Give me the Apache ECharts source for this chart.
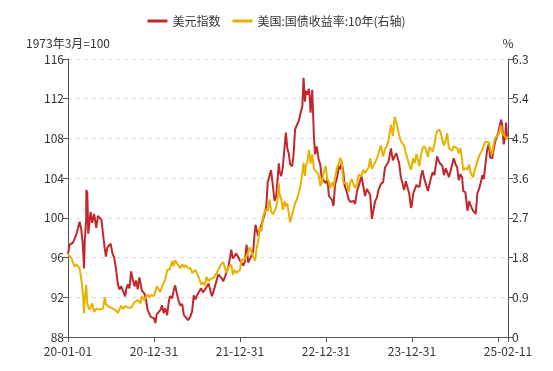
<!DOCTYPE html>
<html>
<head>
<meta charset="utf-8">
<script src="https://cdn.jsdelivr.net/npm/echarts@6/dist/echarts.min.js"></script>
<style>html,body{margin:0;padding:0;background:#fff}#c{width:553px;height:371px}</style>
</head>
<body>
<div id="c"></div>
<script>
var dates = [
"2020-01-01","2020-01-08","2020-01-15","2020-01-22","2020-01-29","2020-02-05","2020-02-12","2020-02-19","2020-02-26","2020-03-04","2020-03-09","2020-03-12","2020-03-18","2020-03-19","2020-03-23","2020-03-27","2020-04-01","2020-04-06","2020-04-13","2020-04-21","2020-04-30","2020-05-07","2020-05-14","2020-05-22","2020-05-29","2020-06-05","2020-06-10","2020-06-16","2020-06-24","2020-06-30","2020-07-08","2020-07-15","2020-07-22","2020-07-31","2020-08-06","2020-08-14","2020-08-21","2020-08-31","2020-09-04","2020-09-11","2020-09-18","2020-09-25","2020-10-02","2020-10-09","2020-10-16","2020-10-23","2020-10-30","2020-11-04","2020-11-09","2020-11-13","2020-11-20","2020-11-27","2020-12-04","2020-12-11","2020-12-18","2020-12-31",
"2021-01-06","2021-01-12","2021-01-20","2021-01-27","2021-02-03","2021-02-10","2021-02-17","2021-02-25","2021-03-04","2021-03-09","2021-03-18","2021-03-24","2021-03-31","2021-04-07","2021-04-14","2021-04-21","2021-04-30","2021-05-07","2021-05-14","2021-05-25","2021-06-04","2021-06-11","2021-06-18","2021-06-25","2021-07-02","2021-07-09","2021-07-19","2021-07-27","2021-08-04","2021-08-11","2021-08-20","2021-08-27","2021-09-03","2021-09-10","2021-09-17","2021-09-24","2021-09-30","2021-10-08","2021-10-15","2021-10-21","2021-10-29","2021-11-05","2021-11-12","2021-11-19","2021-11-24","2021-12-01","2021-12-08","2021-12-15","2021-12-22","2021-12-31",
"2022-01-07","2022-01-14","2022-01-21","2022-01-28","2022-02-04","2022-02-10","2022-02-18","2022-02-25","2022-03-04","2022-03-07","2022-03-11","2022-03-18","2022-03-25","2022-04-01","2022-04-08","2022-04-14","2022-04-22","2022-04-28","2022-05-06","2022-05-12","2022-05-20","2022-05-27","2022-06-03","2022-06-10","2022-06-14","2022-06-17","2022-06-24","2022-07-01","2022-07-08","2022-07-14","2022-07-20","2022-07-27","2022-08-01","2022-08-10","2022-08-16","2022-08-22","2022-08-29","2022-09-07","2022-09-13","2022-09-16","2022-09-22","2022-09-27","2022-10-03","2022-10-07","2022-10-13","2022-10-20","2022-10-24","2022-10-27","2022-11-03","2022-11-10","2022-11-15","2022-11-22","2022-11-30","2022-12-07","2022-12-13","2022-12-20","2022-12-30",
"2023-01-06","2023-01-13","2023-01-18","2023-01-26","2023-02-01","2023-02-08","2023-02-15","2023-02-24","2023-03-02","2023-03-08","2023-03-15","2023-03-20","2023-03-31","2023-04-06","2023-04-14","2023-04-21","2023-04-28","2023-05-04","2023-05-12","2023-05-19","2023-05-31","2023-06-07","2023-06-15","2023-06-23","2023-06-30","2023-07-07","2023-07-14","2023-07-18","2023-07-28","2023-08-04","2023-08-11","2023-08-21","2023-08-31","2023-09-08","2023-09-15","2023-09-22","2023-09-27","2023-10-03","2023-10-11","2023-10-19","2023-10-26","2023-10-31","2023-11-07","2023-11-14","2023-11-21","2023-11-28","2023-12-05","2023-12-13","2023-12-20","2023-12-27","2023-12-31",
"2024-01-05","2024-01-12","2024-01-19","2024-01-26","2024-02-01","2024-02-07","2024-02-14","2024-02-21","2024-02-29","2024-03-08","2024-03-15","2024-03-21","2024-03-28","2024-04-05","2024-04-10","2024-04-16","2024-04-25","2024-05-01","2024-05-09","2024-05-15","2024-05-23","2024-05-29","2024-06-05","2024-06-12","2024-06-18","2024-06-26","2024-07-03","2024-07-10","2024-07-17","2024-07-24","2024-07-31","2024-08-05","2024-08-14","2024-08-23","2024-08-30","2024-09-06","2024-09-16","2024-09-20","2024-09-27","2024-10-04","2024-10-11","2024-10-18","2024-10-25","2024-10-31","2024-11-06","2024-11-14","2024-11-22","2024-11-27","2024-12-06","2024-12-13","2024-12-20","2024-12-31",
"2025-01-07","2025-01-13","2025-01-17","2025-01-24","2025-01-31","2025-02-03","2025-02-07","2025-02-11"
];
var dxy = [
96.4,97.3,97.2,97.5,97.9,98.3,98.9,99.6,98.9,97.3,94.9,97.6,99.8,102.8,102.5,98.4,99.5,100.6,99.5,100.4,99.0,100.2,100.4,99.8,98.3,96.9,96.1,97.0,97.2,97.4,96.4,96.0,95.0,93.3,92.8,93.1,93.2,92.1,92.8,93.3,92.9,94.6,93.8,93.1,93.7,92.8,94.0,93.4,92.7,92.8,92.4,91.8,90.7,90.9,90.0,89.9,
89.4,90.3,90.5,90.7,91.2,90.4,90.9,90.2,91.6,92.1,91.9,92.6,93.2,92.4,91.7,91.2,91.3,90.2,90.3,89.7,90.1,90.6,92.2,91.8,92.2,92.1,92.9,92.5,92.3,93.0,93.4,92.7,92.1,92.6,93.2,93.3,94.3,94.1,93.9,93.6,94.1,94.3,95.1,96.0,96.8,95.9,96.1,96.4,96.1,95.7,
95.7,95.2,95.6,97.3,95.5,95.8,96.0,96.6,98.6,99.3,99.1,98.2,98.8,98.6,99.8,100.3,101.2,103.6,103.7,104.8,103.2,101.7,102.2,104.2,105.5,104.7,104.2,105.1,107.0,108.6,107.0,106.4,105.4,105.2,106.5,108.9,108.8,109.8,109.8,109.8,111.3,114.1,111.7,112.8,112.4,113.0,111.9,110.6,112.9,108.2,106.4,107.2,105.9,105.4,104.0,104.2,103.5,
103.9,102.2,102.4,101.8,101.2,103.4,103.9,105.2,104.9,105.6,104.6,103.3,102.5,101.9,101.6,101.8,101.7,101.4,102.7,103.2,104.2,104.1,102.2,102.9,102.9,102.3,99.9,99.7,101.7,102.0,102.8,103.4,103.6,105.1,105.3,105.6,106.2,107.0,105.8,106.2,106.5,106.7,105.5,104.1,103.5,102.8,103.7,103.0,102.4,101.0,101.3,
102.4,102.4,103.3,103.4,103.1,104.1,104.8,104.0,104.1,102.7,103.4,104.0,104.6,104.3,105.2,106.2,105.6,105.7,105.2,104.3,105.0,105.1,104.1,104.7,105.3,106.0,105.4,105.1,103.8,104.4,104.1,102.7,102.6,100.7,101.7,101.2,100.7,100.7,100.4,102.5,102.9,103.5,104.3,103.9,105.1,106.8,107.5,106.1,106.0,107.0,107.8,108.5,
108.6,109.9,109.4,107.4,108.4,109.6,108.0,108.0
];
var ust10y = [
1.88,1.87,1.79,1.77,1.59,1.65,1.63,1.56,1.33,1.00,0.54,0.82,1.18,1.12,0.76,0.68,0.62,0.67,0.76,0.57,0.64,0.63,0.62,0.66,0.65,0.90,0.74,0.75,0.68,0.66,0.65,0.62,0.60,0.55,0.54,0.71,0.63,0.70,0.72,0.67,0.69,0.66,0.70,0.78,0.74,0.84,0.87,0.76,0.93,0.89,0.83,0.84,0.97,0.90,0.95,0.93,
1.04,1.15,1.08,1.02,1.14,1.15,1.30,1.52,1.56,1.54,1.72,1.61,1.74,1.67,1.63,1.56,1.65,1.58,1.63,1.56,1.56,1.45,1.44,1.52,1.43,1.36,1.19,1.24,1.17,1.36,1.26,1.31,1.32,1.34,1.37,1.46,1.52,1.61,1.59,1.70,1.56,1.45,1.58,1.54,1.64,1.41,1.52,1.45,1.45,1.52,
1.76,1.78,1.75,1.78,1.93,2.03,1.93,1.97,1.73,1.78,2.00,2.15,2.48,2.39,2.71,2.83,2.90,2.85,3.12,2.85,2.78,2.74,2.94,3.15,3.48,3.23,3.13,2.88,3.08,2.96,3.03,2.78,2.60,2.78,2.81,3.03,3.11,3.27,3.41,3.45,3.71,3.95,3.65,3.89,3.95,4.24,4.25,3.93,4.14,3.82,3.77,3.76,3.68,3.42,3.50,3.69,3.88,
3.56,3.51,3.37,3.50,3.40,3.61,3.81,3.95,4.06,3.98,3.50,3.48,3.48,3.29,3.52,3.57,3.44,3.38,3.46,3.68,3.64,3.78,3.72,3.74,3.84,4.05,3.81,3.79,3.96,4.04,4.16,4.34,4.09,4.26,4.33,4.44,4.61,4.81,4.56,4.99,4.86,4.88,4.57,4.44,4.41,4.34,4.17,4.03,3.89,3.79,3.88,
4.05,3.94,4.15,4.14,3.87,4.11,4.27,4.32,4.25,4.08,4.31,4.27,4.20,4.38,4.55,4.66,4.70,4.63,4.45,4.34,4.48,4.62,4.28,4.29,4.22,4.32,4.36,4.28,4.16,4.28,4.03,3.78,3.83,3.80,3.91,3.71,3.62,3.73,3.75,3.98,4.10,4.08,4.24,4.28,4.43,4.45,4.41,4.25,4.15,4.40,4.52,4.57,
4.68,4.79,4.61,4.62,4.54,4.54,4.49,4.54
];
var legendNames = ["美元指数", "美国:国债收益率:10年(右轴)"];
var leftAxisName = "1973年3月=100";
var rightAxisName = "%";
var tickDates = ["2020-01-01","2020-12-31","2021-12-31","2022-12-31","2023-12-31","2024-12-31","2025-02-11"];
var labelDates = ["2020-01-01","2020-12-31","2021-12-31","2022-12-31","2023-12-31","2025-02-11"];

function ts(s){ var p=s.split('-'); return Date.UTC(+p[0], +p[1]-1, +p[2]); }
function fmt(v){ var d=new Date(v); var y=String(d.getUTCFullYear()).slice(2); var m=('0'+(d.getUTCMonth()+1)).slice(-2); var dd=('0'+d.getUTCDate()).slice(-2); return y+'-'+m+'-'+dd; }

var s1 = dates.map(function(d,i){ return [ts(d), dxy[i]]; });
var s2 = dates.map(function(d,i){ return [ts(d), ust10y[i]]; });

var font = '"Microsoft YaHei","Noto Sans CJK SC",sans-serif';
var txt = '#333';
var chart = echarts.init(document.getElementById('c'), null, {renderer:'canvas'});
chart.setOption({
  animation:false,
  textStyle:{fontFamily:font},
  color:['#C1272D','#E8B100'],
  legend:{top:10, left:'center', itemWidth:20, itemHeight:3, itemGap:12, icon:'rect',
    textStyle:{color:txt, fontSize:12, fontFamily:font},
    data:[{name:legendNames[0]},{name:legendNames[1]}]},
  grid:{left:68, right:45, top:59, bottom:34, containLabel:false},
  xAxis:{type:'value', min:ts("2020-01-01"), max:ts("2025-02-11"),
    splitLine:{show:false},
    axisLine:{lineStyle:{color:'#555'}},
    axisTick:{show:true, length:5, lineStyle:{color:'#555'}, customValues:tickDates.map(ts)},
    axisLabel:{color:txt, fontSize:12, margin:8, fontFamily:font, customValues:labelDates.map(ts), formatter:function(v){return fmt(v);}, hideOverlap:false}
  },
  yAxis:[
    {type:'value', min:88, max:116, interval:4, position:'left',
     name:leftAxisName, nameLocation:'end', nameGap:10, nameTextStyle:{color:txt, fontSize:12, fontFamily:font, align:'center'},
     axisLine:{show:true, lineStyle:{color:'#555'}},
     axisTick:{show:true, length:5, lineStyle:{color:'#555'}},
     axisLabel:{color:txt, fontSize:12, margin:4, fontFamily:font},
     splitLine:{show:true, lineStyle:{color:'#ddd', type:[4,4]}}},
    {type:'value', min:0, max:6.3, interval:0.9, position:'right',
     name:rightAxisName, nameLocation:'end', nameGap:10, nameTextStyle:{color:txt, fontSize:12, fontFamily:font, align:'center'},
     axisLine:{show:true, lineStyle:{color:'#555'}},
     axisTick:{show:true, length:5, lineStyle:{color:'#555'}},
     axisLabel:{color:txt, fontSize:12, margin:4, fontFamily:font, formatter:function(v){ return v===0?'0':v.toFixed(1);} },
     splitLine:{show:false}}
  ],
  series:[
    {name:legendNames[0], type:'line', yAxisIndex:0, data:s1, showSymbol:false, symbol:'none', lineStyle:{width:2}},
    {name:legendNames[1], type:'line', yAxisIndex:1, data:s2, showSymbol:false, symbol:'none', lineStyle:{width:2}}
  ]
});
</script>
</body>
</html>
